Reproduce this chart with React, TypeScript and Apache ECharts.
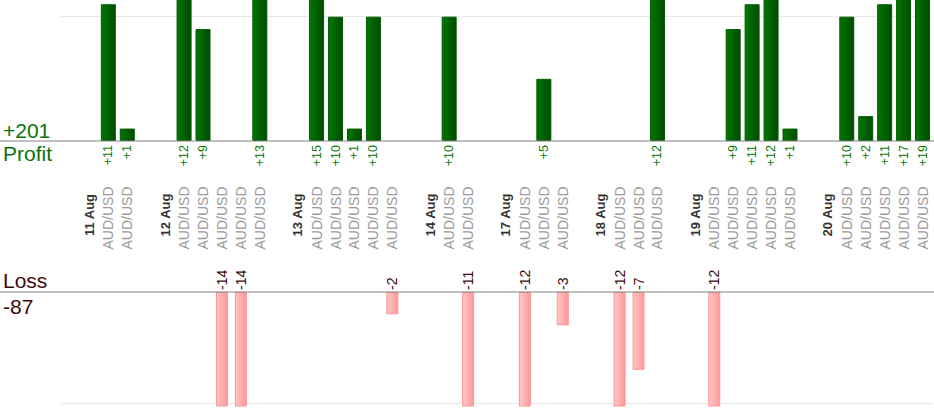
import React, { useEffect, useRef } from 'react';
import * as echarts from 'echarts';

// ---- data ----
const days = ['11 Aug', '12 Aug', '13 Aug', '14 Aug', '17 Aug', '18 Aug', '19 Aug', '20 Aug'];
const pair = 'AUD/USD';
const trades11Aug = [11, 1];
const trades12Aug = [12, 9, -14, -14, 13];
const trades13Aug = [15, 10, 1, 10, -2];
const trades14Aug = [10, -11];
const trades17Aug = [-12, 5, -3];
const trades18Aug = [-12, -7, 12];
const trades19Aug = [-12, 9, 11, 12, 1];
const trades20Aug = [10, 2, 11, 17, 19];
const tradesByDay = [trades11Aug, trades12Aug, trades13Aug, trades14Aug, trades17Aug, trades18Aug, trades19Aug, trades20Aug];

// axis ranges / guide values
const profitAxisMax = 11.34;
const lossAxisMin = -10.26;
const profitGuide = 10;
const lossGuide = -10;

// ---- derived series ----
const categories: string[] = [];
const profit: (number | null)[] = [];
const loss: (number | null)[] = [];
tradesByDay.forEach((trades, d) => {
  categories.push('');
  profit.push(null);
  loss.push(null);
  categories.push(days[d]);
  profit.push(null);
  loss.push(null);
  trades.forEach((v) => {
    categories.push(pair);
    profit.push(v > 0 ? v : null);
    loss.push(v < 0 ? v : null);
  });
});
const totalProfit = profit.reduce((s: number, v) => s + (v || 0), 0);
const totalLoss = loss.reduce((s: number, v) => s + (v || 0), 0);

// ---- layout / style ----
const W = 934;
const H = 420;
const FONT = '"Liberation Sans", Arial, Helvetica, sans-serif';
const GREEN_TEXT = '#0b720b';
const LOSS_TEXT = '#3d0808';
const gridLeft = 61;
const gridWidth = 871;
const topGrid = { top: 0, height: 141 };
const bottomGrid = { top: 292, height: 114 };
const Y0 = topGrid.top + topGrid.height;
const Y1 = bottomGrid.top;

const hiddenParts = {
  axisLine: { show: false },
  axisTick: { show: false },
  splitLine: { show: false },
};

export default function App() {
  const ref = useRef<HTMLDivElement>(null);
  useEffect(() => {
    if (!ref.current) return;
    const chart = echarts.init(ref.current, undefined, { renderer: 'svg' });
    const option: any = {
      animation: false,
      textStyle: { fontFamily: FONT },
      grid: [
        { left: gridLeft, width: gridWidth, top: topGrid.top, height: topGrid.height, outerBoundsMode: 'none' },
        { left: gridLeft, width: gridWidth, top: bottomGrid.top, height: bottomGrid.height, outerBoundsMode: 'none' },
      ],
      xAxis: [
        {
          type: 'category',
          gridIndex: 0,
          data: categories,
          position: 'bottom',
          ...hiddenParts,
          axisLabel: {
            interval: 0,
            rotate: 90,
            margin: 4,
            fontSize: 12.5,
            fontFamily: FONT,
            color: '#087a08',
            formatter: (_v: string, i: number) => (profit[i] != null ? '+' + profit[i] : ''),
          },
        },
        {
          type: 'category',
          gridIndex: 0,
          data: categories,
          position: 'bottom',
          ...hiddenParts,
          axisLabel: {
            interval: 0,
            rotate: 90,
            margin: 77,
            align: 'center',
            verticalAlign: 'middle',
            fontFamily: FONT,
            formatter: (v: string) => {
              if (!v) return '';
              return days.indexOf(v) >= 0 ? '{d|' + v + '}' : '{a|' + v + '}';
            },
            rich: {
              d: { fontSize: 13, fontWeight: 'bold', color: '#333333', fontFamily: FONT, padding: [0, 0, 0, 6] },
              a: { fontSize: 14, color: '#9a9a9a', fontFamily: FONT },
            },
          },
        },
        {
          type: 'category',
          gridIndex: 1,
          data: categories,
          position: 'top',
          ...hiddenParts,
          axisLabel: {
            interval: 0,
            rotate: 90,
            margin: 2,
            fontSize: 14,
            fontFamily: FONT,
            color: LOSS_TEXT,
            formatter: (_v: string, i: number) => (loss[i] != null ? String(loss[i]) : ''),
          },
        },
      ],
      yAxis: [
        { type: 'value', gridIndex: 0, min: 0, max: profitAxisMax, show: false },
        { type: 'value', gridIndex: 1, min: lossAxisMin, max: 0, show: false },
      ],
      series: [
        {
          type: 'bar',
          name: 'Profit',
          xAxisIndex: 0,
          yAxisIndex: 0,
          data: profit,
          barWidth: 15,
          clip: true,
          silent: true,
          itemStyle: {
            color: new echarts.graphic.LinearGradient(0, 0, 1, 0, [
              { offset: 0, color: '#007800' },
              { offset: 1, color: '#004a00' },
            ]),
            borderColor: '#005a00',
            borderWidth: 1,
          },
          markLine: {
            silent: true,
            z: 1,
            symbol: 'none',
            label: { show: false },
            lineStyle: { color: '#e8e8e8', type: 'solid', width: 1 },
            data: [{ yAxis: profitGuide }],
          },
        },
        {
          type: 'bar',
          name: 'Loss',
          xAxisIndex: 2,
          yAxisIndex: 1,
          data: loss,
          barWidth: 12,
          clip: true,
          silent: true,
          itemStyle: {
            color: new echarts.graphic.LinearGradient(0, 0, 1, 0, [
              { offset: 0, color: '#ffc6c6' },
              { offset: 1, color: '#ff9999' },
            ]),
            borderColor: '#ff9595',
            borderWidth: 1,
          },
          markLine: {
            silent: true,
            z: 1,
            symbol: 'none',
            label: { show: false },
            lineStyle: { color: '#e8e8e8', type: 'solid', width: 1 },
            data: [{ yAxis: lossGuide }],
          },
        },
      ],
      graphic: [
        {
          type: 'line',
          z: 10,
          shape: { x1: 0, y1: Y0, x2: W, y2: Y0 },
          style: { stroke: '#808080', lineWidth: 1 },
        },
        {
          type: 'line',
          z: 10,
          shape: { x1: 0, y1: Y1, x2: W, y2: Y1 },
          style: { stroke: '#808080', lineWidth: 1 },
        },
        {
          type: 'text',
          x: 3,
          y: Y0 - 10.5,
          style: { text: '+' + totalProfit, fontSize: 21, fontFamily: FONT, fill: GREEN_TEXT, verticalAlign: 'middle' },
        },
        {
          type: 'text',
          x: 3,
          y: Y0 + 12,
          style: { text: 'Profit', fontSize: 21, fontFamily: FONT, fill: GREEN_TEXT, verticalAlign: 'middle' },
        },
        {
          type: 'text',
          x: 3,
          y: Y1 - 11.5,
          style: { text: 'Loss', fontSize: 21, fontFamily: FONT, fill: LOSS_TEXT, verticalAlign: 'middle' },
        },
        {
          type: 'text',
          x: 3,
          y: Y1 + 14,
          style: { text: String(totalLoss), fontSize: 21, fontFamily: FONT, fill: LOSS_TEXT, verticalAlign: 'middle' },
        },
      ],
    };
    chart.setOption(option);
    return () => chart.dispose();
  }, []);
  return (
    <div
      ref={ref}
      style={{ position: 'fixed', left: 0, top: 0, width: W, height: H, background: '#ffffff' }}
    />
  );
}
